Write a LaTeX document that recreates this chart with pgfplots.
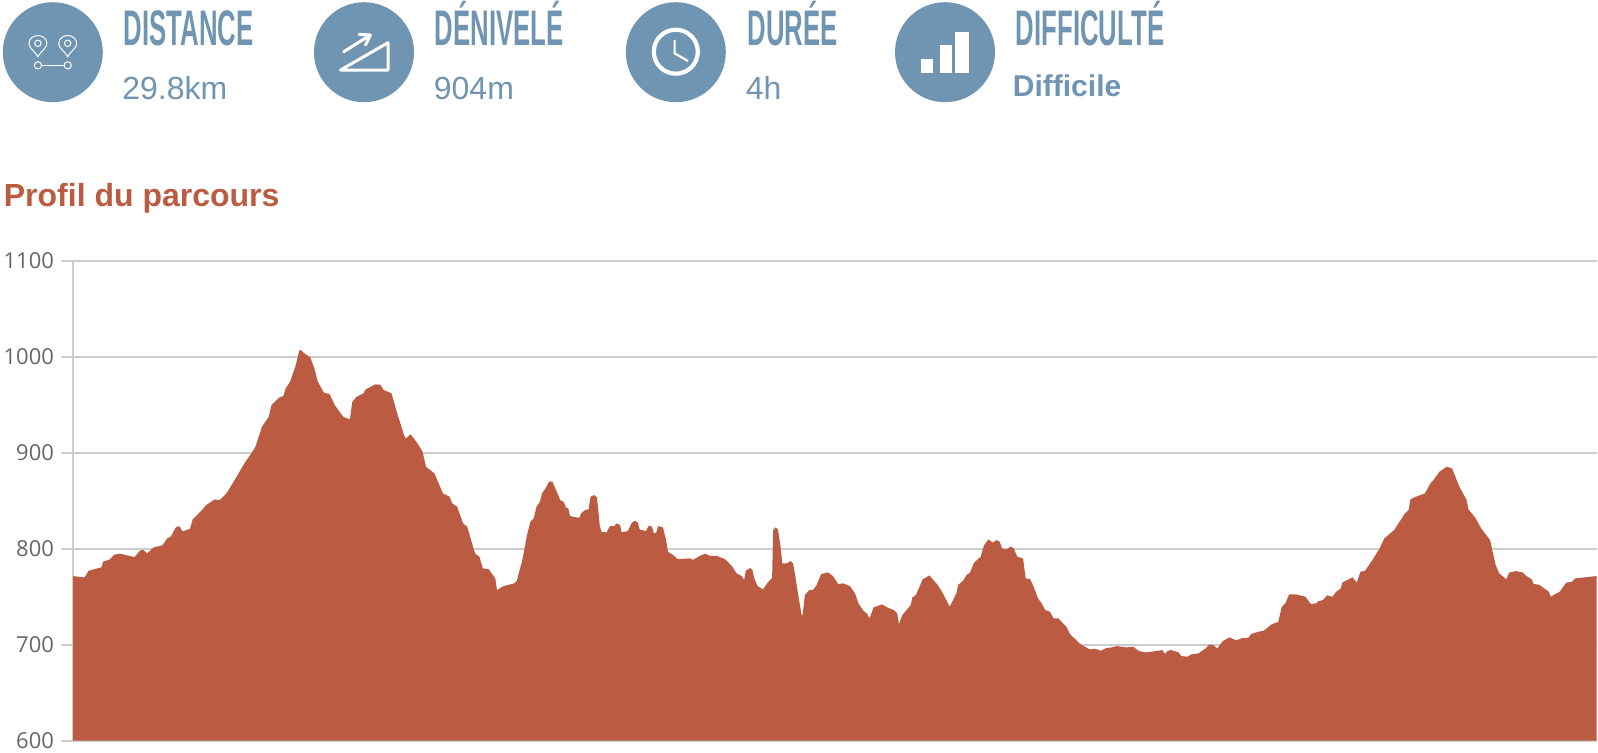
\documentclass[border=0pt]{standalone}
\usepackage{fontspec}
\usepackage{pgfplots}
\usepackage{pgfplotstable}
\pgfplotsset{compat=1.18}
\setmainfont{Liberation Sans}
\newfontfamily\disp[FakeStretch=0.515]{Liberation Sans}
\newfontfamily\tickf{Open Sans}
\definecolor{blu}{HTML}{6F95B2}
\definecolor{rust}{HTML}{BA5B42}
\definecolor{gridg}{HTML}{CCCCCC}
\definecolor{labg}{HTML}{666666}
\pgfplotstableread{
x v
73.0 771.5
84.5 770.1
88.6 777.1
101.4 780.6
103.1 786.5
109.9 788.9
114.3 793.8
120.0 794.8
128.5 792.7
134.5 791.3
140.3 798.3
143.7 798.6
147.1 795.1
153.8 801.4
162.3 803.5
167.3 810.8
170.7 812.5
175.8 822.2
179.2 823.6
182.6 818.1
190.0 820.8
192.7 830.6
199.5 837.5
206.2 845.5
214.7 851.4
219.7 850.7
226.5 857.6
236.6 875.0
243.4 887.2
255.2 905.6
262.0 927.1
268.8 937.5
271.5 949.7
278.9 957.3
283.3 959.0
285.7 967.0
290.1 974.0
295.8 991.3
299.2 1006.3
300.9 1006.9
304.3 1003.5
310.3 999.3
314.4 987.8
317.8 974.0
323.9 962.5
329.6 961.1
334.7 949.7
343.1 937.5
349.9 934.7
352.3 953.1
356.7 958.3
363.4 961.8
365.8 966.0
375.3 971.2
380.3 970.8
383.7 965.3
391.5 961.8
397.2 941.0
404.0 918.4
405.7 914.9
410.7 919.1
417.5 909.7
422.6 901.0
426.0 885.4
434.4 878.5
442.9 857.6
449.6 854.2
452.3 847.2
457.1 843.8
463.1 826.4
467.2 822.9
475.0 795.1
479.4 791.7
482.8 779.5
488.5 778.8
495.3 769.1
497.0 756.9
503.7 761.1
514.2 763.9
516.9 766.7
519.6 777.8
522.0 786.5
524.3 798.6
527.0 814.2
530.4 828.1
533.8 831.6
536.5 843.8
539.9 849.0
542.3 858.3
545.6 862.8
549.0 869.8
552.4 869.8
557.5 857.6
560.2 850.7
563.6 849.0
565.9 843.1
568.3 842.0
570.0 834.0
576.1 832.6
579.4 832.3
581.1 836.8
585.2 840.3
588.6 841.0
590.6 854.2
594.0 855.9
597.0 853.5
599.7 824.7
601.4 817.7
606.5 817.0
609.9 823.6
614.3 823.6
616.6 826.4
620.0 824.7
621.7 817.0
627.8 818.4
631.8 827.1
635.2 829.2
637.9 827.1
639.6 820.1
646.0 818.4
648.7 824.0
652.1 822.9
653.8 816.0
656.2 816.7
658.2 823.6
662.9 822.2
665.7 810.8
668.0 796.9
673.1 793.4
677.5 789.2
689.3 789.9
693.4 788.5
699.5 792.4
705.2 794.8
710.3 792.4
716.4 792.7
724.8 789.2
731.6 782.3
736.6 774.3
741.7 771.5
744.1 767.4
745.8 777.1
750.2 779.9
752.5 777.8
754.2 769.1
757.6 761.1
763.0 757.6
767.1 763.9
772.1 769.8
773.2 819.4
775.5 822.2
777.9 820.1
780.6 802.1
782.3 784.7
786.7 784.7
790.7 787.2
793.1 784.7
795.1 772.6
798.5 750.0
801.6 730.9
802.6 730.9
804.9 751.7
809.3 756.9
812.7 756.9
816.1 761.1
821.2 773.6
827.9 775.3
833.0 771.5
838.1 763.2
843.1 763.9
849.9 761.1
855.0 753.5
858.4 743.1
863.4 735.4
866.8 732.6
869.5 727.4
873.6 738.9
882.0 742.0
887.1 738.9
893.8 736.1
897.2 732.6
898.9 721.5
902.3 730.9
910.7 741.3
912.4 749.3
915.8 751.7
919.2 759.7
922.6 768.1
929.3 772.2
937.8 762.2
942.9 753.5
949.6 739.6
956.4 753.5
958.1 762.2
963.1 766.7
966.5 772.6
969.9 775.0
974.0 785.4
980.7 791.7
984.1 803.8
988.5 809.7
992.9 806.3
996.3 809.0
999.7 807.3
1002.0 800.3
1006.4 799.3
1010.5 802.1
1013.9 800.3
1017.2 791.7
1023.0 789.9
1025.7 769.1
1030.1 768.5
1033.6 760.4
1038.0 748.3
1041.6 743.1
1045.2 736.1
1049.9 734.4
1053.6 727.4
1058.3 727.4
1066.2 718.8
1069.9 711.1
1080.7 700.3
1089.8 695.1
1095.2 695.8
1100.7 693.7
1106.1 696.5
1111.5 697.2
1117.0 698.6
1126.0 697.2
1133.3 697.9
1138.7 693.4
1145.9 692.0
1158.6 693.7
1162.2 694.4
1165.1 690.3
1167.7 693.7
1171.3 694.4
1178.6 692.0
1181.1 688.2
1187.6 687.5
1191.2 689.9
1198.5 691.0
1205.7 696.2
1209.3 700.3
1213.0 699.7
1217.3 696.2
1222.8 703.8
1229.3 707.6
1236.5 704.5
1242.0 706.9
1248.5 707.3
1251.0 711.1
1258.3 713.5
1263.7 714.6
1272.0 721.5
1278.2 723.6
1281.8 739.6
1285.4 743.1
1289.1 752.4
1296.3 752.4
1305.4 750.0
1310.8 742.4
1316.2 743.1
1318.0 745.1
1322.8 746.5
1327.1 751.4
1332.5 750.0
1336.2 755.2
1340.9 758.7
1342.3 764.6
1347.0 767.4
1352.5 770.1
1356.8 764.6
1360.4 776.0
1365.1 777.1
1372.4 788.2
1379.6 800.3
1384.3 810.8
1394.1 819.4
1405.0 836.8
1408.6 840.3
1410.4 851.4
1415.9 854.2
1424.9 857.6
1430.4 868.1
1434.0 872.2
1439.4 880.2
1446.7 885.4
1452.1 883.7
1459.3 864.6
1466.6 850.7
1468.4 841.0
1475.7 831.6
1481.1 821.2
1490.1 809.0
1493.0 795.1
1495.6 783.0
1499.2 774.3
1506.4 768.1
1509.0 775.0
1515.5 776.7
1522.8 775.3
1526.4 771.5
1531.8 768.1
1533.6 763.2
1539.1 762.5
1548.8 755.2
1550.7 750.0
1559.7 755.2
1566.2 764.6
1571.7 765.6
1575.3 769.1
1584.3 770.1
1596.5 771.5
}\profil
\begin{document}
\begin{tikzpicture}
\useasboundingbox (0pt,0pt) rectangle (799pt,-376pt);
\begin{axis}[
  at={(36.5pt,-370.35pt)}, anchor=south west,
  scale only axis, width=761.75pt, height=240pt,
  xmin=73, xmax=1596.5, ymin=600, ymax=1100,
  axis y line*=left, axis x line*=bottom,
  x axis line style={draw=none},
  y axis line style={draw=gridg,line width=0.8pt,-},
  xtick=\empty,
  ytick={600,700,800,900,1000,1100},
  ymajorgrids,
  grid style={gridg,line width=0.8pt},
  major tick style={gridg,line width=0.8pt},
  tick align=outside, major tick length=6pt,
  tick label style={font=\fontsize{11pt}{11pt}\tickf,text=labg},
  /pgf/number format/assume math mode=true,
  /pgf/number format/set thousands separator={},
  clip=true,
]
\addplot[fill=rust,draw=none] table[x=x,y=v] {\profil} \closedcycle;
\end{axis}
\begin{scope}[x=0.5pt,y=-0.5pt]
  % circles
  \fill[blu] (52.8,52.2) circle (25pt);
  \fill[blu] (364,52.2) circle (25pt);
  \fill[blu] (675.8,52.2) circle (25pt);
  \fill[blu] (945,52.2) circle (25pt);
  % distance icon
  \begin{scope}[white,line width=0.5pt]
    \foreach \cx in {37.9,67.7}{
      \draw (\cx,56.7) .. controls (\cx-4,50) and (\cx-9,48) .. (\cx-9,43.5)
         arc[start angle=180,end angle=0,x radius=9,y radius=-8] 
         .. controls (\cx+9,48) and (\cx+4,50) .. cycle;
      \draw (\cx,43.3) circle (1.6pt);
      \draw (\cx,65.3) circle (1.8pt);
    }
    \draw (41.5,65.3) -- (64.1,65.3);
  \end{scope}
  % slope icon
  \draw[white,line width=1.5pt,line join=round,line cap=round]
    (340.6,70) -- (388,70) -- (388,42.7) -- cycle;
  \draw[white,line width=1.5pt,line join=round,line cap=round]
    (343.7,51.7) -- (370.4,35) (359,34.3) -- (370.4,35) -- (365.5,45);
  % clock
  \draw[white,line width=2.1pt] (675.8,51.7) circle (11pt);
  \draw[white,line width=1.1pt,line join=round] (674.6,40) -- (674.6,53.3) -- (688,61);
  % bars
  \fill[white] (920.7,59) rectangle (932.7,72.7);
  \fill[white] (939.5,45) rectangle (952,72.7);
  \fill[white] (955,31.7) rectangle (969,72.7);
  % headings
  \tikzset{hd/.style={anchor=base west,inner sep=0pt,text=blu,font=\fontsize{25pt}{25pt}\disp\bfseries},
           val/.style={anchor=base west,inner sep=0pt,text=blu,font=\fontsize{16pt}{16pt}\selectfont}}
  \node[hd] at (123.5,45) {DISTANCE};
  \node[hd] at (434.5,45) {DÉNIVELÉ};
  \node[hd] at (747,45) {DURÉE};
  \node[hd] at (1015.5,45) {DIFFICULTÉ};
  \node[val] at (122,99.3) {29.8km};
  \node[val] at (433.5,99.3) {904m};
  \node[val] at (745.5,99.3) {4h};
  \node[val,font=\fontsize{15pt}{15pt}\selectfont\bfseries] at (1012.5,96.7) {Difficile};
  \node[anchor=base west,inner sep=0pt,text=rust,font=\fontsize{16pt}{16pt}\selectfont\bfseries] at (3.5,206.7) {Profil du parcours};
\end{scope}
\end{tikzpicture}
\end{document}
